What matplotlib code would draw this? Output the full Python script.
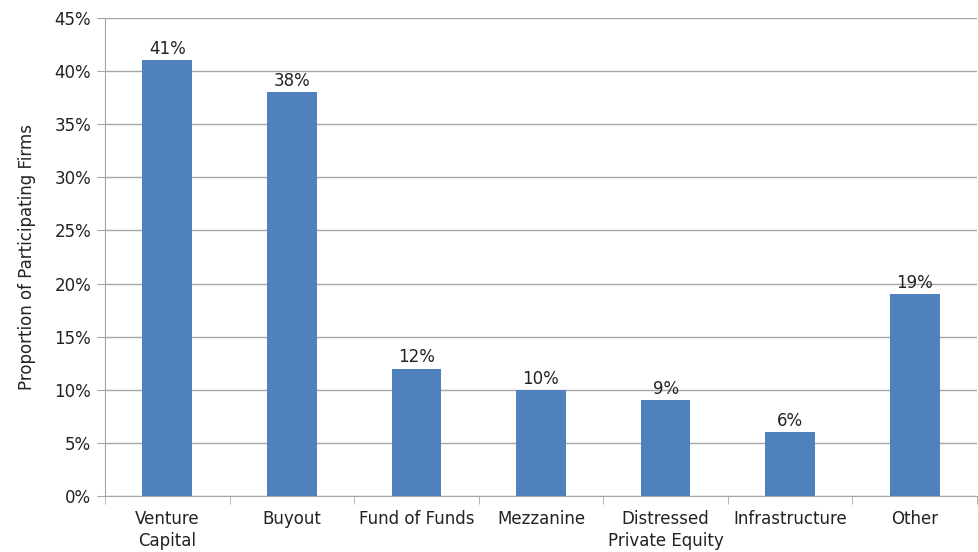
import numpy as np
import matplotlib
matplotlib.use("Agg")
import matplotlib.pyplot as plt
from matplotlib.ticker import FixedLocator, PercentFormatter

# share of participating firms per strategy (%)
categorias = ["Venture\nCapital", "Buyout", "Fund of Funds", "Mezzanine",
              "Distressed\nPrivate Equity", "Infrastructure", "Other"]
valores = [41, 38, 12, 10, 9, 6, 19]
yticks = [0, 5, 10, 15, 20, 25, 30, 35, 40, 45]

plt.rcParams['font.family'] = ['DejaVu Sans']
plt.rcParams['font.size'] = 12

fig = plt.figure(figsize=(9.79, 5.52), dpi=100)
ax = fig.add_axes([105/979, 1-496/552, 872/979, 478/552])

x = np.arange(len(categorias))
barras = ax.bar(x, valores, width=0.4, color="#4F81BD", zorder=3)
for xi, v in zip(x, valores):
    ax.text(xi, v + 0.2, f"{v}%", ha="center", va="bottom", fontsize=12, color="#222222", zorder=4)

ax.set_xlim(-0.5, len(categorias) - 0.5)
ax.set_ylim(0, 45)
ax.set_yticks(yticks)
ax.yaxis.set_major_formatter(PercentFormatter(decimals=0))
ax.yaxis.grid(True, color="#A6A6A6", linewidth=1, zorder=0)

ax.set_xticks(x)
ax.set_xticklabels(categorias, linespacing=1.3)
ax.xaxis.set_minor_locator(FixedLocator(np.arange(-0.5, len(categorias), 1)))
ax.tick_params(axis="x", which="major", length=0, pad=10, labelcolor="#222222")
ax.tick_params(axis="x", which="minor", length=6, color="#A6A6A6")
ax.tick_params(axis="y", length=6, color="#A6A6A6", pad=4, labelcolor="#222222")

for s in ["top", "right"]:
    ax.spines[s].set_visible(False)
ax.spines["left"].set_color("#A6A6A6")
ax.spines["bottom"].set_color("#A6A6A6")

ax.set_ylabel("Proportion of Participating Firms", fontsize=12, color="#222222", labelpad=13)

plt.savefig("out.png", dpi=100)
